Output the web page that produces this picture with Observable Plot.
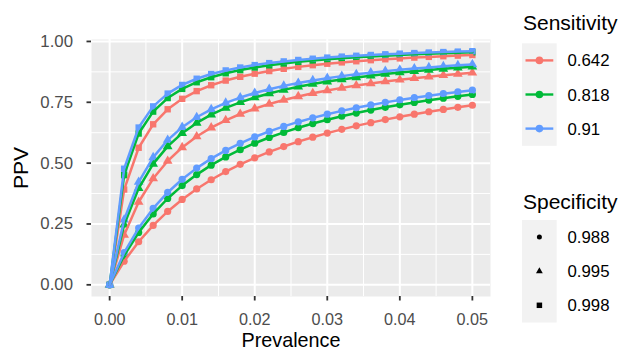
<!DOCTYPE html>
<html><head><meta charset="utf-8">
<script src="https://cdn.jsdelivr.net/npm/d3@7"></script>
<script src="https://cdn.jsdelivr.net/npm/@observablehq/plot@0.6"></script>
<style>
body{margin:0;background:#fff;}
#chart{position:relative;width:622px;height:351px;font-family:"Liberation Sans",Arial,Helvetica,sans-serif;}
#chart svg{overflow:visible;}
#legend{position:absolute;left:0;top:0;pointer-events:none;}
</style></head><body><div id="chart"></div>
<script>
// ---- data ----
const prevalence = [0,0.002,0.004,0.006,0.008,0.010,0.012,0.014,0.016,0.018,0.020,0.022,0.024,0.026,0.028,0.030,0.032,0.034,0.036,0.038,0.040,0.042,0.044,0.046,0.048,0.050];
const sensitivities = ["0.642","0.818","0.91"];
const specificities = ["0.988","0.995","0.998"];
const sensColors = ["#F8766D","#00BA38","#619CFF"];
const specSymbols = ["circle","triangle","square"];
const xTicks = [0,0.01,0.02,0.03,0.04,0.05];
const xMinor = [0.005,0.015,0.025,0.035,0.045];
const yTicks = [0,0.25,0.5,0.75,1];
const yMinor = [0.125,0.375,0.625,0.875];

const ppv_642_988 = [0,0.0968,0.1769,0.2441,0.3014,0.3508,0.3939,0.4317,0.4652,0.4951,0.5219,0.5462,0.5681,0.5882,0.6065,0.6233,0.6388,0.6531,0.6664,0.6788,0.6903,0.7011,0.7112,0.7206,0.7295,0.7379];
const ppv_642_995 = [0,0.2047,0.3402,0.4366,0.5087,0.5646,0.6093,0.6458,0.6761,0.7018,0.7238,0.7428,0.7595,0.7741,0.7872,0.7988,0.8093,0.8188,0.8274,0.8353,0.8425,0.8492,0.8553,0.8609,0.8662,0.8711];
const ppv_642_998 = [0,0.3915,0.5632,0.6596,0.7213,0.7643,0.7959,0.8201,0.8392,0.8547,0.8676,0.8784,0.8876,0.8955,0.9024,0.9085,0.9139,0.9187,0.9230,0.9269,0.9304,0.9337,0.9366,0.9393,0.9418,0.9441];
const ppv_818_988 = [0,0.1202,0.2149,0.2915,0.3547,0.4078,0.4529,0.4918,0.5257,0.5555,0.5818,0.6053,0.6263,0.6453,0.6626,0.6783,0.6926,0.7058,0.7180,0.7292,0.7396,0.7493,0.7583,0.7667,0.7746,0.7820];
const ppv_818_995 = [0,0.2469,0.3965,0.4969,0.5688,0.6230,0.6652,0.6991,0.7268,0.7499,0.7695,0.7863,0.8009,0.8137,0.8250,0.8350,0.8440,0.8520,0.8593,0.8660,0.8721,0.8776,0.8828,0.8875,0.8919,0.8959];
const ppv_818_998 = [0,0.4504,0.6216,0.7117,0.7674,0.8051,0.8324,0.8531,0.8693,0.8823,0.8930,0.9020,0.9096,0.9161,0.9218,0.9267,0.9311,0.9350,0.9386,0.9417,0.9446,0.9472,0.9496,0.9517,0.9538,0.9556];
const ppv_91_988 = [0,0.1319,0.2334,0.3140,0.3795,0.4337,0.4795,0.5185,0.5522,0.5816,0.6075,0.6304,0.6509,0.6693,0.6860,0.7011,0.7148,0.7274,0.7390,0.7497,0.7596,0.7688,0.7773,0.7852,0.7927,0.7996];
const ppv_91_995 = [0,0.2673,0.4223,0.5235,0.5948,0.6477,0.6885,0.7210,0.7474,0.7694,0.7879,0.8037,0.8174,0.8293,0.8398,0.8491,0.8575,0.8650,0.8717,0.8779,0.8835,0.8886,0.8934,0.8977,0.9017,0.9055];
const ppv_91_998 = [0,0.4769,0.6463,0.7331,0.7858,0.8213,0.8468,0.8660,0.8809,0.8929,0.9028,0.9110,0.9180,0.9239,0.9291,0.9337,0.9377,0.9412,0.9444,0.9473,0.9499,0.9523,0.9544,0.9564,0.9582,0.9599];

const seriesTable = [
  [ppv_642_988, ppv_642_995, ppv_642_998],
  [ppv_818_988, ppv_818_995, ppv_818_998],
  [ppv_91_988, ppv_91_995, ppv_91_998]
];
const rows = [];
sensitivities.forEach((se, i) => specificities.forEach((sp, j) => {
  seriesTable[i][j].forEach((v, k) => rows.push({prev: prevalence[k], ppv: v, sens: se, spec: sp, key: se + "_" + sp}));
}));

const FONT = '"Liberation Sans",Arial,Helvetica,sans-serif';
const plot = Plot.plot({
  width: 622, height: 351,
  marginLeft: 91, marginRight: 132, marginTop: 39, marginBottom: 55,
  style: {fontFamily: FONT, background: "transparent", overflow: "visible"},
  x: {domain: [-0.0025, 0.0525]},
  y: {domain: [-0.048, 1.008]},
  color: {domain: sensitivities, range: sensColors},
  symbol: {domain: specificities, range: specSymbols},
  marks: [
    Plot.frame({fill: "#EBEBEB", stroke: "none"}),
    Plot.ruleX(xMinor, {stroke: "white", strokeWidth: 1}),
    Plot.ruleY(yMinor, {stroke: "white", strokeWidth: 1}),
    Plot.ruleX(xTicks, {stroke: "white", strokeWidth: 2}),
    Plot.ruleY(yTicks, {stroke: "white", strokeWidth: 2}),
    Plot.dot(rows, {x: "prev", y: "ppv", fill: "sens", symbol: "spec", r: 3.6, stroke: "none"}),
    Plot.line(rows, {x: "prev", y: "ppv", z: "key", stroke: "sens", strokeWidth: 2.5}),
    Plot.axisX(xTicks, {tickFormat: d3.format(".2f"), tickSize: 4.5, tickPadding: 12.5, fontSize: 16.2, stroke: "#333333", strokeWidth: 1.8, fill: "#4D4D4D", label: null}),
    Plot.axisY(yTicks, {tickFormat: d3.format(".2f"), tickSize: 4.5, tickPadding: 14, fontSize: 16.8, stroke: "#333333", strokeWidth: 1.8, fill: "#4D4D4D", label: null}),
    Plot.text(["PPV"], {frameAnchor: "left", textAnchor: "middle", lineAnchor: "middle", rotate: -90, dx: -70, fontSize: 21, fill: "black"}),
    Plot.text(["Prevalence"], {frameAnchor: "bottom", textAnchor: "middle", lineAnchor: "middle", dy: 44, fontSize: 19.8, fill: "black"})
  ]
});
document.getElementById("chart").appendChild(plot);

// ---- legends ----
const lg = d3.select("#chart").append("svg").attr("id", "legend")
  .attr("width", 622).attr("height", 351)
  .style("font-family", FONT);

function legendBlock(title, titleY, boxY, labels, drawKey) {
  lg.append("text").attr("x", 523).attr("y", titleY).attr("font-size", 21).attr("fill", "black").text(title);
  lg.append("rect").attr("x", 522).attr("y", boxY).attr("width", 34.7).attr("height", 102.5).attr("fill", "#F2F2F2");
  labels.forEach((lab, i) => {
    const cy = boxY + 17.1 + 34.1 * i;
    drawKey(i, cy);
    lg.append("text").attr("x", 567.5).attr("y", cy + 6).attr("font-size", 16.8).attr("fill", "black").text(lab);
  });
}
legendBlock("Sensitivity", 30, 43.3, sensitivities, (i, cy) => {
  lg.append("line").attr("x1", 525.5).attr("x2", 553.3).attr("y1", cy).attr("y2", cy)
    .attr("stroke", sensColors[i]).attr("stroke-width", 2.4);
  lg.append("circle").attr("cx", 539.4).attr("cy", cy).attr("r", 3.8).attr("fill", sensColors[i]);
});
const symTypes = {circle: [d3.symbolCircle, Math.PI * 2.5 * 2.5], triangle: [d3.symbolTriangle, 20], square: [d3.symbolSquare, 30]};
legendBlock("Specificity", 209.3, 220, specificities, (i, cy) => {
  const [t, s] = symTypes[specSymbols[i]];
  lg.append("path").attr("d", d3.symbol().type(t).size(s)()).attr("transform", `translate(539.4,${cy})`).attr("fill", "black");
});
</script></body></html>
